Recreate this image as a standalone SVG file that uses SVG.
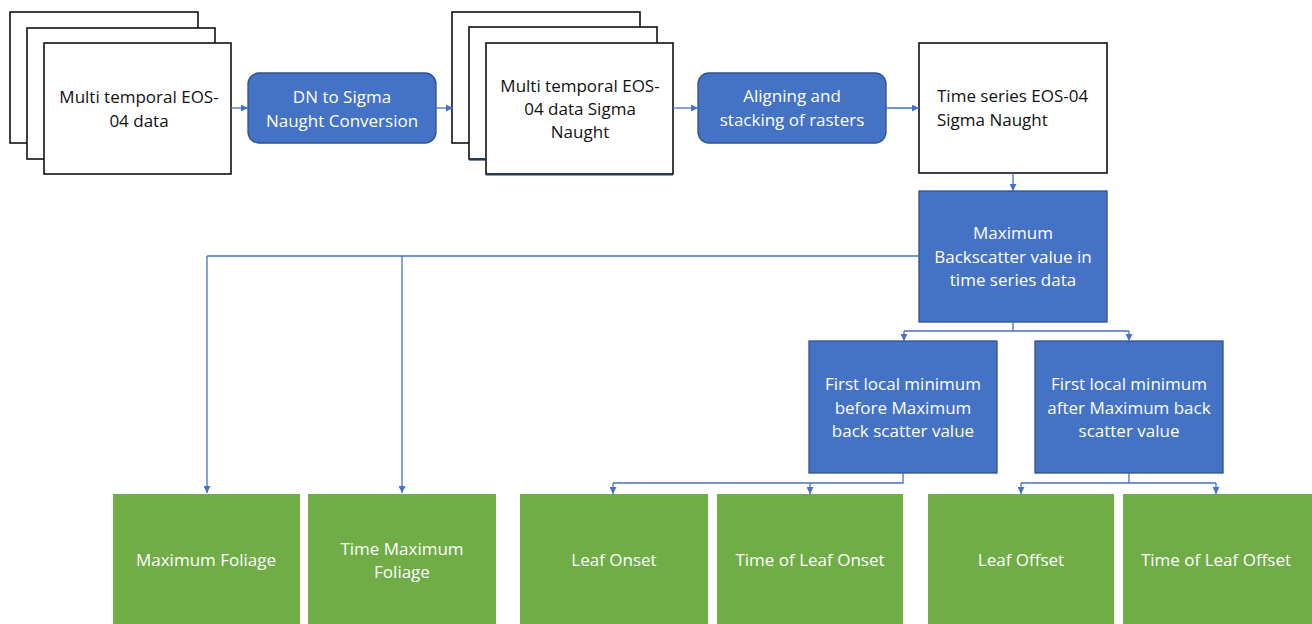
<svg xmlns="http://www.w3.org/2000/svg" width="1312" height="624" viewBox="0 0 1312 624">
<defs>
<marker id="ah" viewBox="0 0 10 10" refX="10" refY="5" markerWidth="7" markerHeight="7" markerUnits="userSpaceOnUse" orient="auto">
<path d="M0,0 L10,5 L0,10 z" fill="#4472C4"/>
</marker>
<style>
.doc{fill:#fff;stroke:#111;stroke-width:1.6}
.blue{fill:#4472C4;stroke:#2F528F;stroke-width:1.3}
.green{fill:#70AD47;stroke:none}
.t{font-family:"Open Sans","Liberation Sans",sans-serif;font-size:17px}
.dk{fill:#111}
.wt{fill:#fff}
.c{fill:none;stroke:#4472C4;stroke-width:1.3;marker-end:url(#ah)}
.cn{fill:none;stroke:#4472C4;stroke-width:1.3}
</style>
</defs>
<rect width="1312" height="624" fill="#fff"/>

<g id="n-multi-temporal">
<rect class="doc" x="10" y="12" width="188" height="131"/>
<rect class="doc" x="27" y="28" width="188" height="131"/>
<rect class="doc" x="44" y="43" width="187" height="131"/>
<text class="t dk" text-anchor="middle" x="139"><tspan x="139" y="103">Multi temporal EOS-</tspan><tspan x="139" y="127">04 data</tspan></text>
</g>

<g id="n-dn-sigma">
<rect class="blue" x="248" y="73" width="188" height="70" rx="11"/>
<text class="t wt" text-anchor="middle"><tspan x="342" y="103">DN to Sigma</tspan><tspan x="342" y="127">Naught Conversion</tspan></text>
</g>

<g id="n-multi-sigma">
<rect class="doc" x="452" y="12" width="188" height="131"/>
<rect class="doc" x="469" y="27" width="188" height="132"/>
<rect class="doc" x="486" y="43" width="187" height="131"/>
<line x1="486" y1="174.5" x2="673" y2="174.5" stroke="#1F3864" stroke-width="2.2"/>
<line x1="469" y1="159.5" x2="486" y2="159.5" stroke="#1F3864" stroke-width="2.2"/>
<text class="t dk" text-anchor="middle"><tspan x="580" y="92">Multi temporal EOS-</tspan><tspan x="580" y="115">04 data Sigma</tspan><tspan x="580" y="138">Naught</tspan></text>
</g>

<g id="n-aligning">
<rect class="blue" x="698" y="73" width="188" height="70" rx="11"/>
<text class="t wt" text-anchor="middle"><tspan x="792" y="102">Aligning and</tspan><tspan x="792" y="126">stacking of rasters</tspan></text>
</g>

<g id="n-time-series">
<rect class="doc" x="919" y="43" width="188" height="130"/>
<text class="t dk"><tspan x="937" y="102">Time series EOS-04</tspan><tspan x="937" y="126">Sigma Naught</tspan></text>
</g>

<g id="n-maximum">
<rect class="blue" x="919" y="191" width="188" height="131"/>
<text class="t wt" text-anchor="middle"><tspan x="1013" y="239">Maximum</tspan><tspan x="1013" y="263">Backscatter value in</tspan><tspan x="1013" y="286">time series data</tspan></text>
</g>

<g id="n-first-before">
<rect class="blue" x="809" y="341" width="188" height="132"/>
<text class="t wt" text-anchor="middle"><tspan x="903" y="390">First local minimum</tspan><tspan x="903" y="414">before Maximum</tspan><tspan x="903" y="437">back scatter value</tspan></text>
</g>

<g id="n-first-after">
<rect class="blue" x="1035" y="341" width="188" height="132"/>
<text class="t wt" text-anchor="middle"><tspan x="1129" y="390">First local minimum</tspan><tspan x="1129" y="414">after Maximum back</tspan><tspan x="1129" y="437">scatter value</tspan></text>
</g>

<g id="n-max-foliage">
<rect class="green" x="113" y="494" width="187" height="130"/>
<text class="t wt" text-anchor="middle" x="206" y="566">Maximum Foliage</text>
</g>

<g id="n-time-max-foliage">
<rect class="green" x="308" y="494" width="188" height="130"/>
<text class="t wt" text-anchor="middle"><tspan x="402" y="555">Time Maximum</tspan><tspan x="402" y="578">Foliage</tspan></text>
</g>

<g id="n-leaf-onset">
<rect class="green" x="520" y="494" width="188" height="130"/>
<text class="t wt" text-anchor="middle" x="614" y="566">Leaf Onset</text>
</g>

<g id="n-time-leaf-onset">
<rect class="green" x="717" y="494" width="186" height="130"/>
<text class="t wt" text-anchor="middle" x="810" y="566">Time of Leaf Onset</text>
</g>

<g id="n-leaf-offset">
<rect class="green" x="928" y="494" width="186" height="130"/>
<text class="t wt" text-anchor="middle" x="1021" y="566">Leaf Offset</text>
</g>

<g id="n-time-leaf-offset">
<rect class="green" x="1123" y="494" width="189" height="130"/>
<text class="t wt" text-anchor="middle" x="1216" y="566">Time of Leaf Offset</text>
</g>

<g id="connectors">
<path class="c" d="M231,108 H248"/>
<path class="c" d="M436,108 H453"/>
<path class="c" d="M673,108 H698"/>
<path class="c" d="M886,108 H919"/>
<path class="c" d="M1013,173 V191"/>
<path class="cn" d="M919,256 H207"/>
<path class="c" d="M207,256 V493"/>
<path class="c" d="M402,256 V493"/>
<path class="cn" d="M1013,322 V331 M904,331 H1129"/>
<path class="c" d="M904,331 V341"/>
<path class="c" d="M1129,331 V341"/>
<path class="cn" d="M903,473 V483 H613"/>
<path class="c" d="M613,483 V494"/>
<path class="c" d="M810,483 V494"/>
<path class="cn" d="M1129,473 V483 M1021,483 H1216"/>
<path class="c" d="M1021,483 V494"/>
<path class="c" d="M1216,483 V494"/>
</g>
</svg>
